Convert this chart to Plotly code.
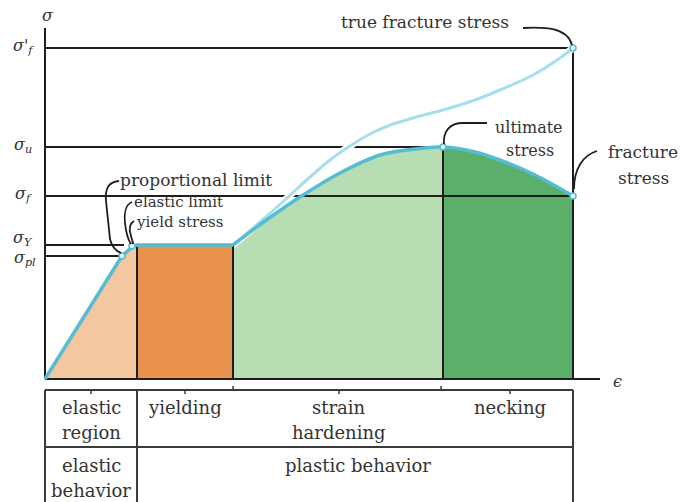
import plotly.graph_objects as go

# Strain values (arbitrary units) and stress levels for the idealised stress-strain diagram
eps_elastic = [0, 77, 86, 92]
sig_elastic = [0, 123, 131, 134]
eps_yield = [92, 188]
sig_yield = [134, 134]
eps_hard = [188, 220, 255, 295, 335, 370, 398]
sig_hard = [134, 158, 182, 206, 224, 230, 232]
eps_neck = [398, 430, 460, 490, 528]
sig_neck = [232, 227, 217, 204, 183]
eps_true = [188, 215, 242, 265, 285, 305, 325, 348, 375, 398, 430, 455, 488, 515, 528]
sig_true = [134, 157, 181, 202, 219, 233, 245, 255, 263, 269, 279, 289, 304, 321, 331]

# Characteristic stress levels
sig_pl = 123
sig_Y = 134
sig_f = 183
sig_u = 232
sig_f_true = 331

# Characteristic strains
eps_pl = 77
eps_el = 87
eps_yield_end = 188
eps_u = 398
eps_frac = 528

# Table rows below the strain axis
row_top = -11
row_mid = -68
row_bottom = -125

region_labels = [("elastic", 46, -28), ("region", 46, -53), ("yielding", 140, -28),
                 ("strain", 294, -28), ("hardening", 294, -53), ("necking", 465, -28)]
behavior_labels = [("elastic", 46, -86), ("behavior", 46, -111), ("plastic behavior", 313, -86)]

INK = "#1e1e1e"
TEXT = "#333333"
CURVE = "#55bcd2"
TRUE_CURVE = "#a6dfeb"
SERIF = "DejaVu Serif"

fig = go.Figure()

# Coloured regions under the engineering curve
fig.add_trace(go.Scatter(x=eps_elastic, y=sig_elastic, mode="lines", fill="tozeroy",
                         line=dict(width=0), fillcolor="#f3c7a0", hoverinfo="skip"))
fig.add_trace(go.Scatter(x=eps_yield, y=sig_yield, mode="lines", fill="tozeroy",
                         line=dict(width=0), fillcolor="#e8924d", hoverinfo="skip"))
fig.add_trace(go.Scatter(x=eps_hard, y=sig_hard, mode="lines", fill="tozeroy",
                         line=dict(width=0, shape="spline"), fillcolor="#b7ddb2",
                         hoverinfo="skip"))
fig.add_trace(go.Scatter(x=eps_neck, y=sig_neck, mode="lines", fill="tozeroy",
                         line=dict(width=0, shape="spline"), fillcolor="#5cae6b",
                         hoverinfo="skip"))

# Guide lines for the stress levels and region boundaries
def guide(xs, ys, color=INK, width=2):
    fig.add_trace(go.Scatter(x=xs, y=ys, mode="lines", line=dict(color=color, width=width),
                             hoverinfo="skip"))

guide([0, eps_frac], [sig_f_true, sig_f_true])
guide([0, eps_u], [sig_u, sig_u])
guide([0, eps_frac], [sig_f, sig_f])
guide([0, eps_pl + 2], [sig_Y, sig_Y])
guide([0, eps_pl - 1], [sig_pl, sig_pl])
guide([eps_elastic[-1], eps_elastic[-1]], [0, sig_Y])
guide([eps_yield_end, eps_yield_end], [0, sig_Y])
guide([eps_u, eps_u], [0, sig_u])
guide([eps_frac, eps_frac], [0, sig_f_true])

# Axes
guide([0, 0], [0, 351])
guide([0, 555], [0, 0])

# Table frame
tab = "#3a3a3a"
guide([0, eps_frac], [row_top, row_top], tab)
guide([0, eps_frac], [row_mid, row_mid], tab)
for xv in [0, eps_elastic[-1], eps_frac]:
    guide([xv, xv], [row_top, row_bottom], tab)
for xv in [46, 140, 294, 465]:
    guide([xv, xv], [row_top, row_top - 4], tab, 1.5)
for xv in [eps_yield_end, eps_u - 2]:
    guide([xv, xv], [row_top, row_top + 4], tab, 1.5)

# True stress-strain curve with a white halo
fig.add_trace(go.Scatter(x=eps_true, y=sig_true, mode="lines",
                         line=dict(color="white", width=7, shape="spline"), hoverinfo="skip"))
fig.add_trace(go.Scatter(x=eps_true, y=sig_true, mode="lines",
                         line=dict(color=TRUE_CURVE, width=3, shape="spline"), hoverinfo="skip"))

# Engineering stress-strain curve
eps_lin = eps_elastic + eps_yield[1:]
sig_lin = sig_elastic + sig_yield[1:]
fig.add_trace(go.Scatter(x=eps_lin, y=sig_lin, mode="lines",
                         line=dict(color=CURVE, width=3.5), hoverinfo="skip"))
fig.add_trace(go.Scatter(x=eps_hard + eps_neck[1:], y=sig_hard + sig_neck[1:], mode="lines",
                         line=dict(color=CURVE, width=3.5, shape="spline"), hoverinfo="skip"))

# Characteristic points
fig.add_trace(go.Scatter(x=[eps_pl, eps_el, eps_u, eps_frac, eps_frac],
                         y=[sig_pl, sig_Y - 1, sig_u, sig_f, sig_f_true], mode="markers",
                         marker=dict(size=6, color="#dff5f9", line=dict(color=CURVE, width=1.5)),
                         hoverinfo="skip"))

# Leader lines to the labels
leaders = [
    "M 478 351 C 500 352, 522 352, 527 334",
    "M 399 235 C 398 248, 405 256, 418 256 L 442 256",
    "M 529 190 C 529 210, 538 224, 552 228",
    "M 74 198 C 63 197, 60 190, 61 178 L 65 140 C 67 131, 71 128, 76 126",
    "M 87 177 C 80 174, 79 164, 80 156 C 81 146, 84 138, 86 135",
    "M 89 158 C 84 155, 84 149, 86 143 C 87 139, 88 137, 88 135",
]
shapes = [dict(type="path", path=p, xref="x", yref="y", line=dict(color=INK, width=1.8),
               layer="above") for p in leaders]

annotations = []

def label(text, x, y, size=17, xanchor="center", italic=False, color=TEXT):
    annotations.append(dict(text=f"<i>{text}</i>" if italic else text, x=x, y=y,
                            xref="x", yref="y", showarrow=False, xanchor=xanchor,
                            yanchor="middle", font=dict(family=SERIF, size=size, color=color)))

label("true fracture stress", 380, 357, 17)
label("ultimate", 484, 252, 16)
label("stress", 485, 229, 16)
label("fracture", 598, 227, 17)
label("stress", 598, 201, 17)
label("proportional limit", 73, 199, 17, "left")
label("elastic limit", 87, 177, 15, "left")
label("yield stress", 89, 157, 15, "left")

# Stress-axis labels
label("σ", 3, 364, 16, italic=True)
label("σ'<sub>f</sub>", -22, sig_f_true + 2, 16, italic=True)
label("σ<sub>u</sub>", -22, sig_u + 2, 16, italic=True)
label("σ<sub>f</sub>", -22, sig_f + 2, 16, italic=True)
label("σ<sub>Y</sub>", -22, sig_Y + 7, 16, italic=True)
label("σ<sub>pl</sub>", -20, sig_pl - 2, 16, italic=True)
label("ϵ", 572, -2, 16, italic=True)

for text, xv, yv in region_labels + behavior_labels:
    label(text, xv, yv, 18)

fig.update_layout(
    width=685, height=502,
    margin=dict(l=0, r=0, t=0, b=0),
    paper_bgcolor="white", plot_bgcolor="white",
    showlegend=False,
    xaxis=dict(range=[-45, 640], visible=False, fixedrange=True),
    yaxis=dict(range=[-123, 379], visible=False, fixedrange=True),
    shapes=shapes,
    annotations=annotations,
)

fig.write_html("out.html")
